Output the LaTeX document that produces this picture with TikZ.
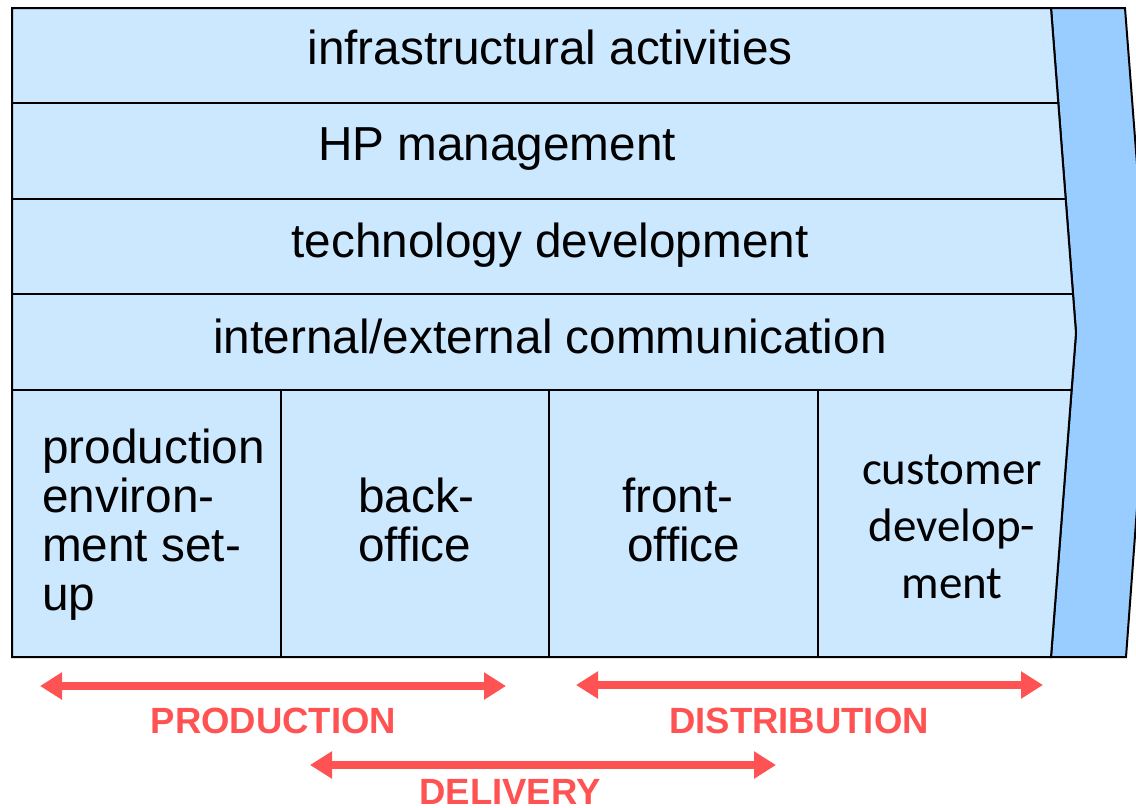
\documentclass[tikz,border=0pt]{standalone}
\usepackage{fontspec}
\setmainfont{Liberation Sans}
\newfontfamily\carlito{Carlito}
\usetikzlibrary{arrows.meta}
\definecolor{lightblue}{RGB}{204,232,255}
\definecolor{darkblue}{RGB}{153,204,255}
\definecolor{arrowred}{RGB}{255,82,82}
\tikzset{
  rowtext/.style={inner sep=0pt, anchor=base, font=\fontsize{47.7}{49}\selectfont},
  celltext/.style={inner sep=0pt, anchor=base west, align=left, font=\fontsize{47.7}{49}\selectfont},
  custtext/.style={inner sep=0pt, anchor=base, align=center, font=\carlito\fontsize{47}{57}\selectfont},
  redlabel/.style={inner sep=0pt, anchor=base, text=arrowred, font=\bfseries\fontsize{36.5}{40}\selectfont},
  redarrow/.style={draw=arrowred, line width=8pt, {Triangle[length=22pt,width=26pt]}-{Triangle[length=22pt,width=26pt]}},
  outline/.style={draw=black, line width=2pt, line join=miter},
  divider/.style={draw=black, line width=1.5pt}
}
\begin{document}
\begin{tikzpicture}[x=1pt,y=-1pt]
\useasboundingbox (0,0) rectangle (1136,807);
\clip (0,0) rectangle (1136,807);
% chevron (dark)
\filldraw[fill=darkblue, outline] (1051,8) -- (1125,8) -- (1150,333) -- (1126,657) -- (1051,657) -- (1076,333) -- cycle;
% main light area
\filldraw[fill=lightblue, outline] (12,8) -- (1051,8) -- (1076,333) -- (1051,657) -- (12,657) -- cycle;
% row dividers
\draw[divider] (12,103) -- (1058.3,103);
\draw[divider] (12,199) -- (1065.7,199);
\draw[divider] (12,294) -- (1073.0,294);
\draw[divider] (12,390) -- (1071.6,390);
% column dividers
\draw[divider] (281,390) -- (281,657);
\draw[divider] (549,390) -- (549,657);
\draw[divider] (818,390) -- (818,657);
% row texts
\node[rowtext] (infra) at (550,64) {infrastructural activities};
\node[rowtext] (hp) at (497,160) {HP management};
\node[rowtext] (tech) at (550,257) {technology development};
\node[rowtext] (comm) at (550,353) {internal/external communication};
% cell texts (base anchor = baseline of last line)
\node[celltext] (prod) at (42,610) {production\\environ-\\ment set-\\up};
\node[celltext] (back) at (358,561) {back-\\office};
\node[celltext] (front) at (622,561) {front-\\\hspace*{5pt}office};
\node[custtext] (cust) at (952,598) {customer\\develop-\\ment};
% arrows
\coordinate (pa) at (40,686);
\coordinate (pb) at (506,686);
\coordinate (da) at (576,685);
\coordinate (db) at (1043,685);
\coordinate (va) at (310,765);
\coordinate (vb) at (776,765);
\draw[redarrow] (pa) -- (pb);
\draw[redarrow] (da) -- (db);
\draw[redarrow] (va) -- (vb);
\node[redlabel] (plabel) at (273.5,733) {PRODUCTION};
\node[redlabel] (dlabel) at (799,733) {DISTRIBUTION};
\node[redlabel] (vlabel) at (510,804) {DELIVERY};
\end{tikzpicture}
\end{document}
